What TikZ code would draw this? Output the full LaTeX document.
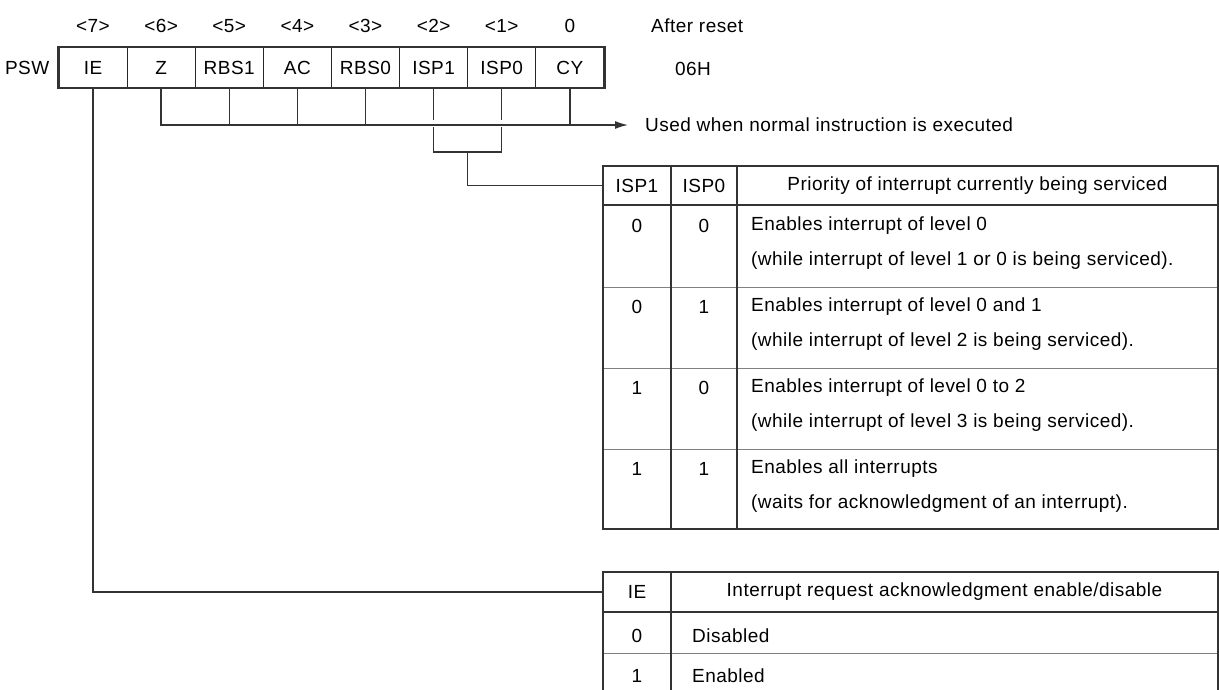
\documentclass[tikz,border=0pt]{standalone}
\usepackage{fontspec}
\setmainfont{Liberation Sans}[LetterSpace=2.5]
\usetikzlibrary{arrows.meta, positioning, calc}
\tikzset{
  regcell/.style = {rectangle, draw=black!85, line width=1pt,
                    minimum width=68.1pt, minimum height=39.6pt, inner sep=0pt},
  tcell/.style   = {rectangle, inner sep=0pt, minimum height=39pt},
  lbl/.style     = {inner sep=0pt},
  wire/.style    = {line width=1.4pt, draw=black!80},
  frame/.style   = {line width=2.4pt, draw=black!80},
  colrule/.style = {line width=1.1pt, draw=black!80},
  rowrule/.style = {line width=0.9pt, draw=black!50},
  arrow/.style   = {wire, -{Latex[length=13pt,width=8pt]}},
}

\begin{document}
\begin{tikzpicture}[x=1pt, y=-1pt, font=\fontsize{19}{23}\selectfont]
  \useasboundingbox (0,0) rectangle (1219,690);
  \def\cw{68.125}
  \def\busy{125}
  \def\brky{152}

  % PSW register, bit 7 on the left
  \foreach \b/\name in {7/IE, 6/Z, 5/RBS1, 4/AC, 3/RBS0, 2/ISP1, 1/ISP0, 0/CY}{
    \pgfmathsetmacro\x{93+(7-\b)*\cw}
    \node[regcell] (b\b) at (\x,67.5) {\name};
    \node[lbl] (n\b) at (\x,26) {\ifnum\b=0 0\else<\b>\fi};
  }
  \draw[frame] (b7.north west) rectangle (b0.south east);
  \node[lbl, left=9pt of b7] (psw) {PSW};
  \node[lbl, anchor=west] (rst) at (651,26) {After reset};
  \node[lbl] (val) at (693,69) {06H};

  % flags used by normal instructions
  \node[lbl, anchor=west] (used) at (645,\busy) {Used when normal instruction is executed};
  \draw[arrow] (b6.south) |- ([xshift=-17pt]used.west);
  \foreach \b in {5,4,3,0}
    \draw[wire] (b\b.south) -- (b\b.south |- 0,\busy);
  \draw[wire] (b2.south) -- (b2.south |- 0,120);
  \draw[wire] (b1.south) -- (b1.south |- 0,120);

  % ISP bracket
  \draw[wire] (b2.south |- 0,127) -- (b2.south |- 0,\brky)
    -- (b1.south |- 0,\brky) -- (b1.south |- 0,127);
  \coordinate (isp) at ($(b2.south |- 0,\brky)!0.5!(b1.south |- 0,\brky)$);

  % ISP table
  \node[tcell, minimum width=68pt] (h1) at (637,185.5) {ISP1};
  \node[tcell, minimum width=66pt] (h2) at (704,185.5) {ISP0};
  \node[tcell] (h3) at (977.5,185.5) {Priority of interrupt currently being serviced};
  \draw[wire] (isp) |- (h1.west);
  \foreach \r/\a/\c/\la/\lb in {
      0/0/0/{Enables interrupt of level 0}/{(while interrupt of level 1 or 0 is being serviced).},
      1/0/1/{Enables interrupt of level 0 and 1}/{(while interrupt of level 2 is being serviced).},
      2/1/0/{Enables interrupt of level 0 to 2}/{(while interrupt of level 3 is being serviced).},
      3/1/1/{Enables all interrupts}/{(waits for acknowledgment of an interrupt).}}{
    \pgfmathsetmacro\y{205+81*\r}
    \node[lbl] (ra\r) at (637,\y+21) {\a};
    \node[lbl] (rb\r) at (704,\y+21) {\c};
    \node[lbl, anchor=west] (rc\r) at (751,\y+21) {\la};
    \node[lbl, anchor=west] (rd\r) at (751,\y+56) {\lb};
  }
  \foreach \y in {287,368,449}
    \draw[rowrule] (603,\y) -- (1218,\y);
  \draw[colrule] (671,166) -- (671,529);
  \draw[colrule, line width=1.5pt] (737,166) -- (737,529);
  \draw[frame] (603,205) -- (1218,205);
  \draw[frame] (603,166) rectangle (1218,529);

  % IE table
  \node[tcell, minimum width=68pt] (ieh) at (637,592) {IE};
  \node[tcell] (ied) at (944.5,592) {Interrupt request acknowledgment enable/disable};
  \draw[wire] (b7.south) |- (ieh.west);
  \node[lbl] (ie0) at (637,636) {0};
  \node[lbl, anchor=west] (ie0t) at (692,636) {Disabled};
  \node[lbl] (ie1) at (637,676) {1};
  \node[lbl, anchor=west] (ie1t) at (692,676) {Enabled};
  \draw[rowrule] (603,653) -- (1218,653);
  \draw[colrule] (671,572) -- (671,690);
  \draw[frame] (603,612) -- (1218,612);
  \draw[frame] (603,690) -- (603,572) -- (1218,572) -- (1218,690);
\end{tikzpicture}
\end{document}
